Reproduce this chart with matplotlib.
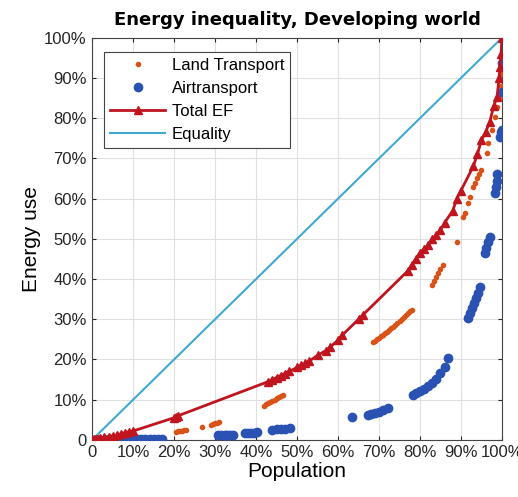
import matplotlib.pyplot as plt
from matplotlib.ticker import FixedLocator, FixedFormatter

plt.rcParams['font.family'] = ['Liberation Sans', 'DejaVu Sans']

# Lorenz curve values, in percent
total_x = [0, 0.5, 1, 1.5, 2, 3, 4, 5, 6, 7, 8, 9, 10, 20, 20.5, 21, 43, 44, 45, 46,
           47, 48, 50, 51, 52, 53, 55, 57, 58, 60, 61, 65, 66, 77, 78, 79, 80, 81, 82,
           83, 84, 85, 86, 88, 89, 90, 93, 94, 95, 96, 97, 98, 98.8, 99.3, 99.5, 99.8, 100]
total_y = [0, 0.1, 0.2, 0.3, 0.4, 0.6, 0.8, 1.0, 1.2, 1.5, 1.8, 2.0, 2.2, 5.5, 5.8, 6.0,
           14.5, 15.0, 15.5, 16.0, 16.5, 17.0, 18.0, 18.5, 19.0, 19.6, 21.0, 22.2, 23.0,
           24.8, 26.0, 30.0, 31.0, 42.0, 43.5, 45.0, 46.5, 47.5, 48.5, 50.0, 51.0, 52.2,
           54.0, 57.0, 60.0, 62.0, 68.0, 71.0, 74.5, 76.5, 79.0, 83.0, 85.3, 90.0, 92.8,
           96.0, 100]

land_x = [1, 2, 3, 4, 5, 6, 7, 8, 9, 20.5, 21, 21.5, 22, 22.5, 23, 26.8, 29, 29.5, 30,
          30.5, 31, 42, 42.5, 43, 43.5, 44, 44.5, 45, 45.5, 46, 46.5, 68.5, 69, 69.5, 70,
          70.5, 71, 71.5, 72, 72.5, 73, 73.5, 74, 74.5, 75, 75.5, 76, 76.5, 77, 77.5, 78,
          83, 83.5, 84, 84.5, 85, 85.5, 89, 90.5, 91, 91.7, 92.2, 93, 93.5, 94, 94.5, 95,
          96.3, 96.6, 97.6, 98.3, 98.8, 99.5, 99.7, 99.8, 99.9, 100]
land_y = [0.1, 0.2, 0.3, 0.4, 0.5, 0.6, 0.8, 1.0, 1.2, 2.0, 2.1, 2.2, 2.3, 2.4, 2.5, 3.2,
          3.7, 3.9, 4.1, 4.3, 4.5, 8.5, 8.8, 9.1, 9.4, 9.7, 10.0, 10.3, 10.6, 10.9, 11.2,
          24.4, 24.7, 25.1, 25.4, 25.8, 26.1, 26.5, 26.9, 27.3, 27.7, 28.1, 28.5, 29.0,
          29.5, 30.0, 30.5, 31.0, 31.5, 32.0, 32.4, 38.6, 39.5, 40.5, 41.5, 42.5, 43.5,
          49.3, 55.5, 56.5, 59.0, 60.4, 63.0, 64.0, 65.0, 66.0, 67.0, 71.4, 73.9, 77.0,
          80.3, 82.8, 85.3, 88.0, 91.0, 94.0, 100]

air_x = [0.5, 1, 1.5, 2, 3, 4, 5, 6.8, 8, 9, 10, 11, 12, 13, 14, 15, 16, 17, 30.7, 31.5,
         32.3, 33, 33.7, 34.4, 37.3, 38, 38.7, 39.5, 40.2, 43.9, 45, 46, 47, 48.3, 63.4,
         67.3, 68, 69, 70, 71, 72.2, 78.3, 79, 80, 81, 82, 83, 84, 85, 86, 86.8, 91.7,
         92.2, 92.7, 93.2, 93.7, 94.2, 94.6, 95.9, 96.2, 96.5, 97, 98.3, 98.5, 98.7, 98.8,
         99.5, 99.7, 100, 100, 100]
air_y = [0, 0, 0, 0, 0, 0.1, 0.1, 0.2, 0.2, 0.2, 0.2, 0.2, 0.25, 0.25, 0.3, 0.3, 0.3, 0.3,
         1.1, 1.1, 1.2, 1.2, 1.2, 1.3, 1.7, 1.7, 1.8, 1.8, 1.9, 2.5, 2.6, 2.7, 2.8, 3.0,
         5.6, 6.2, 6.4, 6.7, 7.0, 7.4, 7.9, 11.2, 11.6, 12.1, 12.7, 13.4, 14.2, 15.2, 16.6,
         18.2, 20.4, 30.3, 31.5, 32.8, 34.0, 35.3, 36.6, 38.0, 46.5, 47.8, 49.2, 50.5, 61.4,
         62.8, 64.5, 66.0, 75.4, 76.5, 77.0, 86.6, 93.8]

ticks = [0, 10, 20, 30, 40, 50, 60, 70, 80, 90, 100]
tick_labels = ['0', '10%', '20%', '30%', '40%', '50%', '60%', '70%', '80%', '90%', '100%']

fig = plt.figure(figsize=(5.18, 4.97), dpi=100)
ax = fig.add_axes([0.178, 0.115, 0.791, 0.809])

ax.plot(land_x, land_y, '.', color='#D95319', markersize=6, label='Land Transport', zorder=3)
ax.plot(air_x, air_y, 'o', color='#2A52B2', markersize=6, label='Airtransport', zorder=3)
ax.plot(total_x, total_y, '-^', color='#C0141E', linewidth=2, markersize=6,
        label='Total EF', zorder=4)
ax.plot([0, 100], [0, 100], '-', color='#3FA9D3', linewidth=1.5, label='Equality', zorder=2)

ax.set_xlim(0, 100)
ax.set_ylim(0, 100)
ax.xaxis.set_major_locator(FixedLocator(ticks))
ax.xaxis.set_major_formatter(FixedFormatter(tick_labels))
ax.yaxis.set_major_locator(FixedLocator(ticks))
ax.yaxis.set_major_formatter(FixedFormatter(tick_labels))
ax.tick_params(direction='in', top=True, right=True, labelsize=12, colors='#262626',
               length=3, pad=4)
ax.grid(True, color='#E0E0E0', linewidth=0.8)
for s in ax.spines.values():
    s.set_color('#444444')

ax.set_title('Energy inequality, Developing world', fontsize=13, fontweight='bold',
             family='DejaVu Sans', pad=9)
ax.set_xlabel('Population', fontsize=15, labelpad=1)
ax.set_ylabel('Energy use', fontsize=15, labelpad=2)

leg = ax.legend(loc='upper left', bbox_to_anchor=(0.03, 0.965), fontsize=12,
                fancybox=False, edgecolor='#444444', framealpha=1,
                handlelength=3.3, borderpad=0.35, labelspacing=0.48, handletextpad=0.4,
                borderaxespad=0)
leg.get_frame().set_linewidth(0.8)

fig.savefig('out.png', dpi=100)
